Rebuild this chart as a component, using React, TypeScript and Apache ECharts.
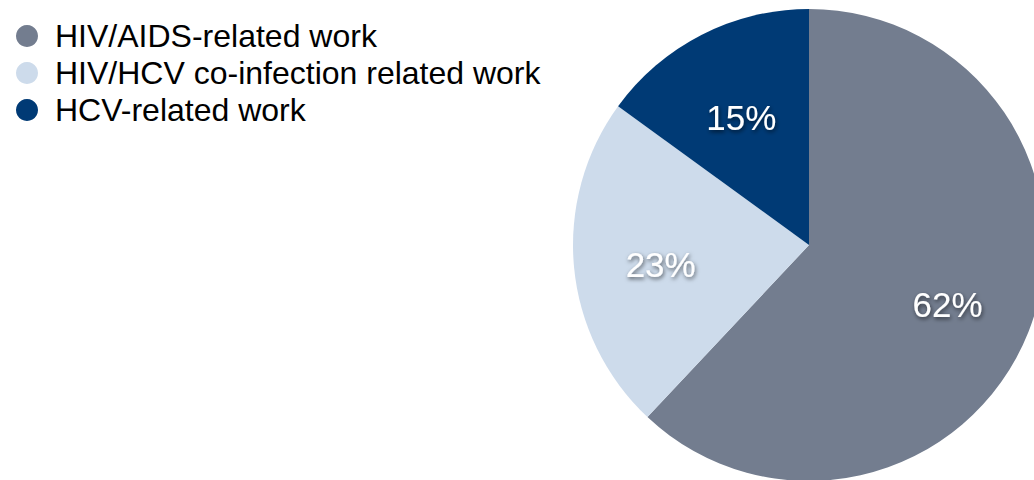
import React, { useEffect, useRef } from "react";
import * as echarts from "echarts";

const categories = ["HIV/AIDS-related work", "HIV/HCV co-infection related work", "HCV-related work"];
const values = [62, 23, 15];
const colors = ["#737d8f", "#cddbeb", "#003a75"];

export default function App() {
  const ref = useRef<HTMLDivElement>(null);
  useEffect(() => {
    const chart = echarts.init(ref.current!, null, { renderer: "svg" });
    const data = categories.map((name, i) => ({ name, value: values[i], itemStyle: { color: colors[i] } }));
    chart.setOption({
      animation: false,
      backgroundColor: "#ffffff",
      legend: {
        orient: "vertical",
        left: 11,
        top: 15,
        icon: "circle",
        itemWidth: 22,
        itemHeight: 22,
        itemGap: 5,
        data: categories,
        selectedMode: false,
        textStyle: {
          fontSize: 32,
          color: "#000",
          fontFamily: "Liberation Sans, Arial, sans-serif",
          padding: [0, 0, 0, 12],
        },
      },
      series: [
        {
          type: "pie",
          center: [809, 245],
          radius: [0, 236],
          startAngle: 90,
          clockwise: true,
          silent: true,
          label: { show: false },
          labelLine: { show: false },
          data,
        },
        {
          type: "pie",
          center: [809, 245],
          radius: [56, 236],
          startAngle: 90,
          clockwise: true,
          silent: true,
          itemStyle: { color: "rgba(0,0,0,0)" },
          label: {
            show: true,
            position: "inside",
            formatter: "{c}%",
            color: "#ffffff",
            fontSize: 35,
            fontFamily: "Liberation Sans, Arial, sans-serif",
            offset: [0, 5],
            textShadowColor: "rgba(0,0,0,0.6)",
            textShadowBlur: 4,
            textShadowOffsetX: 1,
            textShadowOffsetY: 2,
          },
          labelLine: { show: false },
          data: categories.map((name, i) => ({ name, value: values[i] })),
        },
      ],
    });
    return () => chart.dispose();
  }, []);
  return <div ref={ref} style={{ position: "fixed", left: 0, top: 0, width: 1034, height: 480 }} />;
}
